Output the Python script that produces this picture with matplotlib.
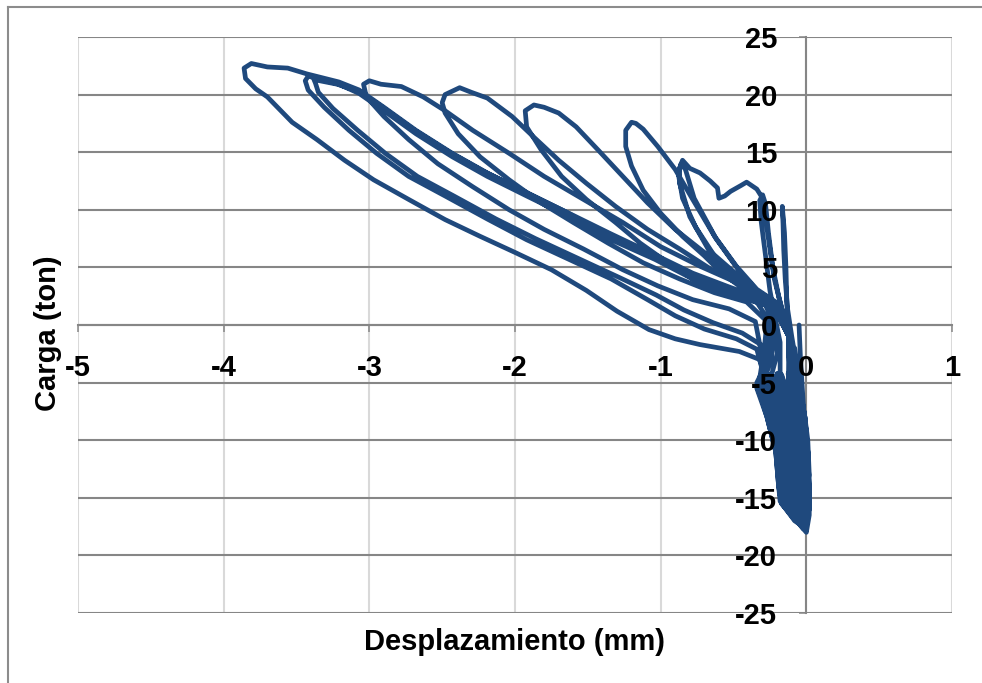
import matplotlib
matplotlib.use("Agg")
import matplotlib.pyplot as plt
from matplotlib.lines import Line2D
import numpy as np

# Desplazamiento (mm) / Carga (ton), one pair of lists per load cycle
# (loading branch, unloading branch, then the compression excursions)
start_disp = [-0.05, -0.04, -0.02, -0.01, -0.04, -0.08]
start_load = [0.0, -3.0, -7.0, -10.0, -6.0, -2.5]

cycle1_disp = [-0.10, -0.13, -0.145, -0.155, -0.16, -0.165, -0.15, -0.14, -0.135, -0.13, -0.12,
               -0.123, -0.075, -0.045, -0.033, -0.015,
               -0.001, -0.012, -0.036, -0.079,
               -0.049, -0.023, -0.012, 0.0,
               0.02, 0.01, -0.01, -0.05, -0.09]
cycle1_load = [-1.0, 1.5, 4.0, 6.5, 8.8, 10.3, 8.0, 5.0, 2.5, 0.5, -1.5,
               -5.0, -8.0, -11.0, -13.0, -13.8,
               -12.0, -10.0, -8.0, -5.0,
               -8.0, -11.0, -13.5, -14.2,
               -13.0, -10.0, -8.0, -5.0, -2.5]

cycle2_disp = [-0.12, -0.15, -0.19, -0.23, -0.26, -0.28, -0.30, -0.32, -0.31, -0.29, -0.27, -0.25, -0.22, -0.18,
               -0.18, -0.127, -0.089, -0.075, -0.03,
               -0.01, -0.022, -0.034, -0.062, -0.108,
               -0.125, -0.088, -0.056, -0.043, -0.01,
               0.01, -0.001, -0.023, -0.065, -0.10]
cycle2_load = [-1.0, 0.5, 2.5, 5.0, 8.0, 10.5, 11.3, 10.8, 9.0, 7.0, 5.0, 3.0, 1.0, -1.5,
               -5.0, -8.0, -11.0, -14.0, -15.0,
               -14.0, -13.0, -11.0, -8.0, -5.0,
               -4.2, -8.0, -11.0, -14.0, -15.3,
               -14.0, -11.0, -8.0, -5.0, -2.0]

cycle3_disp = [-0.12, -0.17, -0.22, -0.26, -0.29, -0.31, -0.34, -0.41, -0.45, -0.52, -0.56, -0.60, -0.61,
               -0.66, -0.73, -0.80, -0.85, -0.87, -0.87, -0.80, -0.67, -0.46, -0.30, -0.22, -0.20,
               -0.253, -0.192, -0.144, -0.127, -0.07, -0.03,
               -0.054, -0.067, -0.101, -0.152,
               -0.17, -0.14, -0.10, -0.085, -0.03, 0.0,
               0.005, -0.012, -0.036, -0.079, -0.11]
cycle3_load = [-1.0, 1.5, 4.0, 7.5, 10.0, 11.2, 11.8, 12.4, 12.1, 11.6, 11.2, 11.0, 11.9,
               12.5, 13.2, 13.6, 14.3, 13.6, 12.3, 9.4, 6.5, 4.2, 2.6, 0.5, -2.5,
               -5.0, -8.0, -11.0, -14.0, -15.5, -16.0,
               -14.0, -11.0, -8.0, -5.0,
               -4.3, -8.0, -11.0, -14.0, -16.0, -16.3,
               -14.0, -11.0, -8.0, -5.0, -2.0]

cycle3b_disp = [-0.12, -0.20, -0.30, -0.45, -0.62, -0.77, -0.83, -0.86, -0.88, -0.85, -0.76, -0.62, -0.44,
                -0.28, -0.22, -0.24,
                -0.297, -0.231, -0.177, -0.159, -0.09, -0.03,
                -0.02, -0.064, -0.078, -0.114, -0.166,
                -0.20, -0.166, -0.122, -0.106, -0.05, -0.01,
                0.0, -0.012, -0.023, -0.049, -0.094, -0.12]
cycle3b_load = [-1.0, 1.0, 2.5, 4.5, 7.5, 11.0, 13.5, 14.0, 13.2, 11.0, 8.5, 5.8, 3.8,
                2.2, 0.0, -3.0,
                -5.0, -8.0, -11.0, -14.0, -16.0, -16.6,
                -16.0, -14.0, -11.0, -8.0, -5.0,
                -4.3, -8.0, -11.0, -14.0, -16.3, -16.8,
                -15.0, -14.0, -11.0, -8.0, -5.0, -2.5]

cycle4_disp = [-0.12, -0.16, -0.21, -0.34, -0.48, -0.63, -0.78, -0.90, -1.02, -1.12, -1.17, -1.20,
               -1.24, -1.24, -1.20, -1.12, -1.00, -0.85, -0.70, -0.58, -0.43, -0.29, -0.22, -0.26,
               -0.325, -0.257, -0.199, -0.18, -0.12, -0.04, -0.01,
               -0.03, -0.085, -0.10, -0.14, -0.195,
               -0.23, -0.179, -0.133, -0.117, -0.06, -0.01,
               0.012, 0.01, -0.001, -0.023, -0.065, -0.11]
cycle4_load = [-1.0, 1.0, 2.0, 3.1, 5.1, 7.7, 10.9, 13.5, 15.5, 17.0, 17.5, 17.6,
               16.9, 15.5, 13.8, 11.7, 9.7, 7.7, 6.0, 4.5, 3.1, 2.0, 0.0, -3.0,
               -5.0, -8.0, -11.0, -14.0, -16.3, -17.0, -17.2,
               -16.0, -14.0, -11.0, -8.0, -5.0,
               -4.5, -8.0, -11.0, -14.0, -16.5, -17.3,
               -15.5, -14.0, -11.0, -8.0, -5.0, -2.0]

cycle5_disp = [-0.12, -0.17, -0.25, -0.36, -0.53, -0.70, -0.90, -1.09, -1.26, -1.43, -1.58, -1.70, -1.80, -1.87,
               -1.93, -1.92, -1.82, -1.68, -1.51, -1.31, -1.14, -0.95, -0.78, -0.58, -0.34, -0.24, -0.28,
               -0.34, -0.27, -0.21, -0.19, -0.17, -0.07, 0.0,
               -0.04, -0.096, -0.111, -0.153, -0.21,
               -0.25, -0.205, -0.155, -0.138, -0.08, -0.02,
               0.02, 0.02, 0.01, -0.01, -0.05, -0.10]
cycle5_load = [-1.0, 1.0, 2.3, 3.1, 4.5, 6.3, 8.3, 10.6, 12.9, 15.2, 17.2, 18.4, 18.9, 19.1,
               18.6, 17.2, 15.2, 12.9, 10.9, 8.9, 7.1, 5.4, 4.0, 2.8, 2.0, 0.0, -3.5,
               -5.0, -8.0, -11.0, -14.0, -15.5, -16.9, -17.8,
               -16.5, -14.0, -11.0, -8.0, -5.0,
               -4.3, -8.0, -11.0, -14.0, -16.5, -17.5,
               -16.0, -14.0, -11.0, -8.0, -5.0, -2.0]

cycle6_disp = [-0.12, -0.18, -0.30, -0.43, -0.65, -0.87, -1.09, -1.31, -1.51, -1.70, -1.87, -2.02, -2.19, -2.30, -2.38,
               -2.48, -2.50, -2.48, -2.39, -2.24, -2.04, -1.82, -1.60, -1.36, -1.12, -0.87, -0.63, -0.41, -0.27, -0.30,
               -0.311, -0.244, -0.188, -0.169, -0.11, -0.04, 0.0,
               -0.03, -0.075, -0.089, -0.127, -0.18,
               -0.24, -0.218, -0.166, -0.148, -0.09, -0.02,
               0.0, -0.001, -0.012, -0.036, -0.079, -0.12]
cycle6_load = [-1.0, 1.2, 2.5, 3.4, 4.8, 6.6, 8.3, 10.3, 12.3, 14.3, 16.3, 18.1, 19.7, 20.2, 20.6,
               20.0, 19.3, 18.4, 16.6, 14.6, 12.6, 10.6, 8.9, 7.1, 5.4, 4.0, 2.8, 2.0, 0.3, -3.5,
               -5.0, -8.0, -11.0, -14.0, -16.3, -17.2, -17.6,
               -16.5, -14.0, -11.0, -8.0, -5.0,
               -4.3, -8.0, -11.0, -14.0, -16.4, -17.3,
               -15.5, -14.0, -11.0, -8.0, -5.0, -1.5]

cycle7_disp = [-0.12, -0.20, -0.32, -0.48, -0.73, -1.00, -1.26, -1.53, -1.80, -2.04, -2.29, -2.48, -2.63, -2.78, -2.92, -3.00,
               -3.04, -3.02, -2.90, -2.73, -2.53, -2.29, -2.04, -1.80, -1.53, -1.26, -1.02, -0.78, -0.53, -0.35, -0.30,
               -0.325, -0.257, -0.199, -0.18, -0.15, -0.05, -0.01,
               -0.05, -0.106, -0.122, -0.166, -0.224,
               -0.26, -0.192, -0.144, -0.127, -0.07, -0.01,
               -0.01, -0.022, -0.034, -0.062, -0.108, -0.12]
cycle7_load = [-1.0, 1.3, 2.8, 3.7, 5.1, 6.8, 8.9, 10.9, 12.9, 14.9, 16.9, 18.6, 19.8, 20.7, 20.9, 21.2,
               20.9, 19.8, 18.1, 16.1, 14.0, 12.0, 10.0, 8.3, 6.6, 4.8, 3.4, 2.2, 1.4, 0.3, -3.0,
               -5.0, -8.0, -11.0, -14.0, -15.6, -17.2, -17.4,
               -16.2, -14.0, -11.0, -8.0, -5.0,
               -4.5, -8.0, -11.0, -14.0, -16.3, -17.0,
               -15.5, -14.0, -11.0, -8.0, -5.0, -2.5]

cycle8_disp = [-0.12, -0.22, -0.35, -0.53, -0.78, -1.04, -1.34, -1.63, -1.92, -2.19, -2.43, -2.68, -2.90, -3.07, -3.21, -3.36, -3.42,
               -3.44, -3.42, -3.31, -3.14, -2.95, -2.73, -2.48, -2.19, -1.92, -1.63, -1.34, -1.09, -0.90, -0.70, -0.48, -0.34, -0.30,
               -0.34, -0.27, -0.21, -0.19, -0.18, -0.08, -0.01,
               -0.06, -0.117, -0.133, -0.179, -0.239,
               -0.28, -0.231, -0.177, -0.159, -0.10, -0.02,
               0.015, 0.01, -0.001, -0.023, -0.065, -0.11]
cycle8_load = [-1.0, 1.5, 2.0, 2.9, 4.0, 5.7, 7.4, 9.4, 11.2, 12.9, 14.6, 16.6, 18.6, 20.1, 20.9, 21.4, 21.6,
               21.2, 20.4, 18.9, 16.9, 14.9, 12.9, 11.2, 9.2, 7.4, 5.7, 4.0, 2.2, 0.8, -0.35, -1.2, -2.1, -4.0,
               -5.5, -8.0, -11.0, -14.0, -15.3, -17.0, -17.6,
               -16.5, -14.0, -11.0, -8.0, -5.0,
               -4.5, -8.0, -11.0, -14.0, -16.5, -17.7,
               -16.5, -14.0, -11.0, -8.0, -5.0, -1.5]

cycle8b_disp = [-0.12, -0.22, -0.35, -0.55, -0.80, -1.06, -1.36, -1.65, -1.94, -2.21, -2.45, -2.70, -2.92, -3.08, -3.22, -3.34, -3.38,
                -3.37, -3.35, -3.25, -3.08, -2.89, -2.67, -2.42, -2.13, -1.86, -1.57, -1.28, -1.03, -0.84, -0.64, -0.44, -0.30,
                -0.305, -0.239, -0.183, -0.165, -0.10, -0.03,
                -0.03, -0.064, -0.078, -0.114, -0.166,
                -0.20, -0.153, -0.111, -0.096, -0.05, -0.01,
                0.005, -0.012, -0.023, -0.049, -0.094, -0.12]
cycle8b_load = [-1.0, 1.4, 2.2, 3.1, 4.3, 6.0, 7.8, 9.8, 11.6, 13.3, 15.0, 17.0, 19.0, 20.3, 20.9, 21.2, 21.3,
                21.0, 20.2, 18.8, 16.9, 14.9, 12.9, 11.2, 9.2, 7.5, 5.8, 4.1, 2.6, 1.3, 0.2, -0.7, -1.8,
                -5.0, -8.0, -11.0, -14.0, -16.3, -17.3,
                -16.2, -14.0, -11.0, -8.0, -5.0,
                -4.2, -8.0, -11.0, -14.0, -16.3, -16.8,
                -15.0, -14.0, -11.0, -8.0, -5.0, -1.2]

cycle9_disp = [-0.12, -0.20, -0.29, -0.53, -0.78, -1.04, -1.34, -1.63, -1.92, -2.19, -2.43, -2.68, -2.90, -3.07, -3.21, -3.43, -3.56, -3.70, -3.81,
               -3.86, -3.85, -3.78, -3.70, -3.53, -3.36, -3.17, -2.97, -2.73, -2.48, -2.24, -2.00, -1.75, -1.51, -1.30, -1.08, -0.90, -0.73, -0.46, -0.32, -0.28,
               -0.334, -0.265, -0.205, -0.186, -0.17, -0.08, -0.01,
               -0.02, -0.043, -0.056, -0.088, -0.137,
               -0.27, -0.244, -0.188, -0.169, -0.12, -0.04, 0.0,
               0.02, 0.02, 0.01, -0.01, -0.05, -0.08]
cycle9_load = [-1.0, 1.2, 2.2, 3.3, 4.5, 6.1, 7.9, 9.7, 11.5, 13.2, 14.9, 16.9, 18.9, 20.4, 21.1, 21.8, 22.3, 22.4, 22.7,
               22.3, 21.4, 20.5, 19.8, 17.6, 16.1, 14.3, 12.6, 10.9, 9.15, 7.7, 6.3, 4.8, 3.0, 1.2, -0.4, -1.2, -1.7, -2.3, -3.0, -4.5,
               -5.5, -8.0, -11.0, -14.0, -15.5, -16.9, -17.6,
               -16.5, -14.0, -11.0, -8.0, -5.0,
               -4.5, -8.0, -11.0, -14.0, -16.2, -17.4, -18.0,
               -16.5, -14.0, -11.0, -8.0, -5.0, -2.0]

cycles = [
    (start_disp, start_load),
    (cycle1_disp, cycle1_load),
    (cycle2_disp, cycle2_load),
    (cycle3_disp, cycle3_load),
    (cycle3b_disp, cycle3b_load),
    (cycle4_disp, cycle4_load),
    (cycle5_disp, cycle5_load),
    (cycle6_disp, cycle6_load),
    (cycle7_disp, cycle7_load),
    (cycle8_disp, cycle8_load),
    (cycle8b_disp, cycle8b_load),
    (cycle9_disp, cycle9_load),
]

x_ticks = [-5, -4, -3, -2, -1, 0, 1]
y_ticks = [-25, -20, -15, -10, -5, 0, 5, 10, 15, 20, 25]


def hysteresis_chart(cycles):
    disp = np.concatenate([np.asarray(d, dtype=float) for d, _ in cycles])
    load = np.concatenate([np.asarray(l, dtype=float) for _, l in cycles])

    plt.rcParams['font.family'] = ['Liberation Sans', 'DejaVu Sans']
    plt.rcParams['font.weight'] = 'bold'
    plt.rcParams['axes.labelweight'] = 'bold'
    plt.rcParams['axes.unicode_minus'] = False

    fig = plt.figure(figsize=(9.82, 6.83), dpi=100)
    pos = [78 / 982, 70 / 683, 874 / 982, 576 / 683]
    ax = fig.add_axes(pos)
    ax.set_xlim(-5, 1)
    ax.set_ylim(-25, 25)
    ax.set_xticks(x_ticks)
    ax.set_yticks(y_ticks)
    ax.set_axisbelow(True)

    # excel style: dark horizontal grid, light vertical grid, axes crossing at zero
    ax.grid(axis='y', color='#868686', lw=1.5)
    ax.grid(axis='x', color='#d9d9d9', lw=1.5)
    for gl in ax.get_xgridlines() + ax.get_ygridlines():
        gl.set_clip_on(False)
    for side in ['top', 'right']:
        ax.spines[side].set_visible(False)
    for side in ['left', 'bottom']:
        ax.spines[side].set_position(('data', 0))
        ax.spines[side].set_color('#868686')
        ax.spines[side].set_linewidth(1.5)
    ax.tick_params(direction='out', length=5, width=1.1, color='#868686',
                   labelleft=False, labelbottom=False)

    ax.plot(disp, load, color='#1F497D', lw=3.4, zorder=3,
            solid_joinstyle='round', solid_capstyle='round')

    ax.set_xlabel('Desplazamiento (mm)', fontsize=21, va='center')
    ax.xaxis.set_label_coords(0.5, -0.05)
    ax.set_ylabel('Carga (ton)', fontsize=21, va='center')
    ax.yaxis.set_label_coords(-0.034, 0.486)

    # tick labels on a transparent overlay so they sit above the curve
    lab = fig.add_axes(pos, frameon=False)
    lab.set_xlim(-5, 1)
    lab.set_ylim(-25, 25)
    lab.set_xticks(x_ticks)
    lab.set_yticks(y_ticks)
    for side in ['left', 'bottom']:
        lab.spines[side].set_position(('data', 0))
    lab.tick_params(length=0, labelsize=21, pad=21)

    # chart area border
    fig.add_artist(Line2D([7.5 / 982, 7.5 / 982], [0, 1 - 6.5 / 683],
                          transform=fig.transFigure, color='#8c8c8c', lw=1.5))
    fig.add_artist(Line2D([7.5 / 982, 1], [1 - 6.5 / 683, 1 - 6.5 / 683],
                          transform=fig.transFigure, color='#8c8c8c', lw=1.5))

    fig.savefig('out.png', dpi=100)


def main():
    hysteresis_chart(cycles)


if __name__ == "__main__":
    main()
